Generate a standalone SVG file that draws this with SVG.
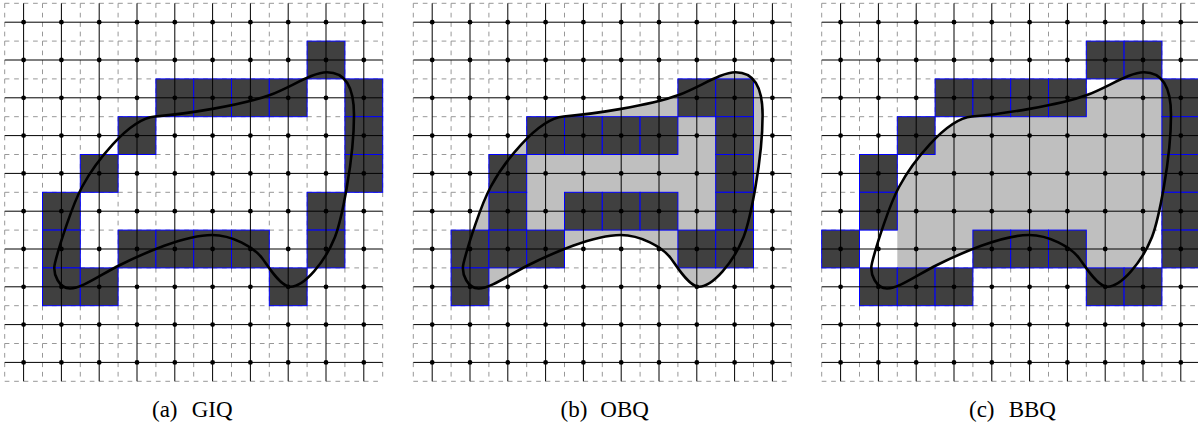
<svg xmlns="http://www.w3.org/2000/svg" xmlns:xlink="http://www.w3.org/1999/xlink" width="1198" height="427" viewBox="0 0 1198 427">
<style>
.dl{stroke:#8c8c8c;stroke-width:0.9;stroke-dasharray:4.7 4.75;fill:none}
.sl{stroke:#000;stroke-width:1;fill:none}
.dot{fill:#000}
.dk{fill:#404040;stroke:#0000ff;stroke-width:1}
.gf{fill:#bfbfbf;stroke:none}
.wf{fill:#fff;stroke:none}
.cv{fill:none;stroke:#000;stroke-width:2.6}
.lbl{font-family:"Liberation Serif","DejaVu Serif",serif;font-size:23px;fill:#000}
</style>
<defs>
<g id="dgrid" class="dl">
<line x1="4.7" y1="3.3" x2="382.7" y2="3.3"/><line x1="4.7" y1="41.1" x2="382.7" y2="41.1"/><line x1="4.7" y1="78.9" x2="382.7" y2="78.9"/><line x1="4.7" y1="116.7" x2="382.7" y2="116.7"/><line x1="4.7" y1="154.5" x2="382.7" y2="154.5"/><line x1="4.7" y1="192.3" x2="382.7" y2="192.3"/><line x1="4.7" y1="230.1" x2="382.7" y2="230.1"/><line x1="4.7" y1="267.9" x2="382.7" y2="267.9"/><line x1="4.7" y1="305.7" x2="382.7" y2="305.7"/><line x1="4.7" y1="343.5" x2="382.7" y2="343.5"/><line x1="4.7" y1="381.3" x2="382.7" y2="381.3"/>
<line x1="4.7" y1="3.3" x2="4.7" y2="381.3"/><line x1="42.5" y1="3.3" x2="42.5" y2="381.3"/><line x1="80.3" y1="3.3" x2="80.3" y2="381.3"/><line x1="118.1" y1="3.3" x2="118.1" y2="381.3"/><line x1="155.9" y1="3.3" x2="155.9" y2="381.3"/><line x1="193.7" y1="3.3" x2="193.7" y2="381.3"/><line x1="231.5" y1="3.3" x2="231.5" y2="381.3"/><line x1="269.3" y1="3.3" x2="269.3" y2="381.3"/><line x1="307.1" y1="3.3" x2="307.1" y2="381.3"/><line x1="344.9" y1="3.3" x2="344.9" y2="381.3"/><line x1="382.7" y1="3.3" x2="382.7" y2="381.3"/>
</g>
<g id="dotrow" class="dot">
<circle cx="23.6" cy="0" r="2.4"/><circle cx="61.4" cy="0" r="2.4"/><circle cx="99.2" cy="0" r="2.4"/><circle cx="137" cy="0" r="2.4"/><circle cx="174.8" cy="0" r="2.4"/><circle cx="212.6" cy="0" r="2.4"/><circle cx="250.4" cy="0" r="2.4"/><circle cx="288.2" cy="0" r="2.4"/><circle cx="326" cy="0" r="2.4"/><circle cx="363.8" cy="0" r="2.4"/>
</g>
<g id="sgrid">
<g class="sl">
<line x1="4.7" y1="22.2" x2="382.7" y2="22.2"/><line x1="4.7" y1="60" x2="382.7" y2="60"/><line x1="4.7" y1="97.8" x2="382.7" y2="97.8"/><line x1="4.7" y1="135.6" x2="382.7" y2="135.6"/><line x1="4.7" y1="173.4" x2="382.7" y2="173.4"/><line x1="4.7" y1="211.2" x2="382.7" y2="211.2"/><line x1="4.7" y1="249" x2="382.7" y2="249"/><line x1="4.7" y1="286.8" x2="382.7" y2="286.8"/><line x1="4.7" y1="324.6" x2="382.7" y2="324.6"/><line x1="4.7" y1="362.4" x2="382.7" y2="362.4"/>
<line x1="23.6" y1="3.3" x2="23.6" y2="381.3"/><line x1="61.4" y1="3.3" x2="61.4" y2="381.3"/><line x1="99.2" y1="3.3" x2="99.2" y2="381.3"/><line x1="137" y1="3.3" x2="137" y2="381.3"/><line x1="174.8" y1="3.3" x2="174.8" y2="381.3"/><line x1="212.6" y1="3.3" x2="212.6" y2="381.3"/><line x1="250.4" y1="3.3" x2="250.4" y2="381.3"/><line x1="288.2" y1="3.3" x2="288.2" y2="381.3"/><line x1="326" y1="3.3" x2="326" y2="381.3"/><line x1="363.8" y1="3.3" x2="363.8" y2="381.3"/>
</g>
<use xlink:href="#dotrow" href="#dotrow" y="22.2"/><use xlink:href="#dotrow" href="#dotrow" y="60"/><use xlink:href="#dotrow" href="#dotrow" y="97.8"/><use xlink:href="#dotrow" href="#dotrow" y="135.6"/><use xlink:href="#dotrow" href="#dotrow" y="173.4"/><use xlink:href="#dotrow" href="#dotrow" y="211.2"/><use xlink:href="#dotrow" href="#dotrow" y="249"/><use xlink:href="#dotrow" href="#dotrow" y="286.8"/><use xlink:href="#dotrow" href="#dotrow" y="324.6"/><use xlink:href="#dotrow" href="#dotrow" y="362.4"/>
</g>
<rect id="cell" class="dk" width="37.8" height="37.8"/>
<path id="curve" d="M155,116.5 C185,114 240,105.8 270,95 C290,87.8 312,72.3 327,72.3 C342,72.3 354,82 354,115 C354,160 341.5,220 335,237 C325,262 304,287 290,286.7 C280,286.7 266.9,264.3 262,258 C253.5,247 232,235 212,235 C185,235 142.4,253.8 120,265 C100.3,274.8 82,288.5 70,288.5 C60,288.5 52,275 55,263 C59.8,243.6 72.6,204.6 82,187 C93.75,165 128,118.7 155,116.5 Z"/>
</defs>

<g id="panel-a">
<use xlink:href="#dgrid" href="#dgrid"/>
<g id="cells-a">
<use href="#cell" x="307.1" y="41.1"/>
<use href="#cell" x="155.9" y="78.9"/><use href="#cell" x="193.7" y="78.9"/><use href="#cell" x="231.5" y="78.9"/><use href="#cell" x="269.3" y="78.9"/><use href="#cell" x="344.9" y="78.9"/>
<use href="#cell" x="118.1" y="116.7"/><use href="#cell" x="344.9" y="116.7"/>
<use href="#cell" x="80.3" y="154.5"/><use href="#cell" x="344.9" y="154.5"/>
<use href="#cell" x="42.5" y="192.3"/><use href="#cell" x="307.1" y="192.3"/>
<use href="#cell" x="42.5" y="230.1"/><use href="#cell" x="118.1" y="230.1"/><use href="#cell" x="155.9" y="230.1"/><use href="#cell" x="193.7" y="230.1"/><use href="#cell" x="231.5" y="230.1"/><use href="#cell" x="307.1" y="230.1"/>
<use href="#cell" x="42.5" y="267.9"/><use href="#cell" x="80.3" y="267.9"/><use href="#cell" x="269.3" y="267.9"/>
</g>
<use href="#sgrid"/>
<use href="#curve" class="cv"/>
<text class="lbl" x="152" y="417">(a)<tspan x="191.7">GIQ</tspan></text>
</g>

<g id="panel-b" transform="translate(408.6,0)">
<use href="#dgrid"/>
<use href="#curve" class="gf"/>
<g id="cells-b">
<use href="#cell" x="269.3" y="78.9"/><use href="#cell" x="307.1" y="78.9"/>
<use href="#cell" x="118.1" y="116.7"/><use href="#cell" x="155.9" y="116.7"/><use href="#cell" x="193.7" y="116.7"/><use href="#cell" x="231.5" y="116.7"/><use href="#cell" x="307.1" y="116.7"/>
<use href="#cell" x="80.3" y="154.5"/><use href="#cell" x="307.1" y="154.5"/>
<use href="#cell" x="80.3" y="192.3"/><use href="#cell" x="155.9" y="192.3"/><use href="#cell" x="193.7" y="192.3"/><use href="#cell" x="231.5" y="192.3"/><use href="#cell" x="307.1" y="192.3"/>
<use href="#cell" x="42.5" y="230.1"/><use href="#cell" x="80.3" y="230.1"/><use href="#cell" x="118.1" y="230.1"/><use href="#cell" x="269.3" y="230.1"/><use href="#cell" x="307.1" y="230.1"/>
<use href="#cell" x="42.5" y="267.9"/>
</g>
<use href="#sgrid"/>
<use href="#curve" class="cv"/>
<text class="lbl" x="152" y="417">(b)<tspan x="191.7">OBQ</tspan></text>
</g>

<g id="panel-c" transform="translate(817,0)">
<use href="#dgrid"/>
<use href="#curve" class="gf"/>
<rect class="wf" x="42.5" y="230.1" width="37.8" height="37.8"/>
<g id="cells-c">
<use href="#cell" x="269.3" y="41.1"/><use href="#cell" x="307.1" y="41.1"/>
<use href="#cell" x="118.1" y="78.9"/><use href="#cell" x="155.9" y="78.9"/><use href="#cell" x="193.7" y="78.9"/><use href="#cell" x="231.5" y="78.9"/><use href="#cell" x="344.9" y="78.9"/>
<use href="#cell" x="80.3" y="116.7"/><use href="#cell" x="344.9" y="116.7"/>
<use href="#cell" x="42.5" y="154.5"/><use href="#cell" x="344.9" y="154.5"/>
<use href="#cell" x="42.5" y="192.3"/><use href="#cell" x="344.9" y="192.3"/>
<use href="#cell" x="4.7" y="230.1"/><use href="#cell" x="155.9" y="230.1"/><use href="#cell" x="193.7" y="230.1"/><use href="#cell" x="231.5" y="230.1"/><use href="#cell" x="344.9" y="230.1"/>
<use href="#cell" x="42.5" y="267.9"/><use href="#cell" x="80.3" y="267.9"/><use href="#cell" x="118.1" y="267.9"/><use href="#cell" x="269.3" y="267.9"/><use href="#cell" x="307.1" y="267.9"/>
</g>
<use href="#sgrid"/>
<use href="#curve" class="cv"/>
<text class="lbl" x="152" y="417">(c)<tspan x="191.7">BBQ</tspan></text>
</g>
</svg>
